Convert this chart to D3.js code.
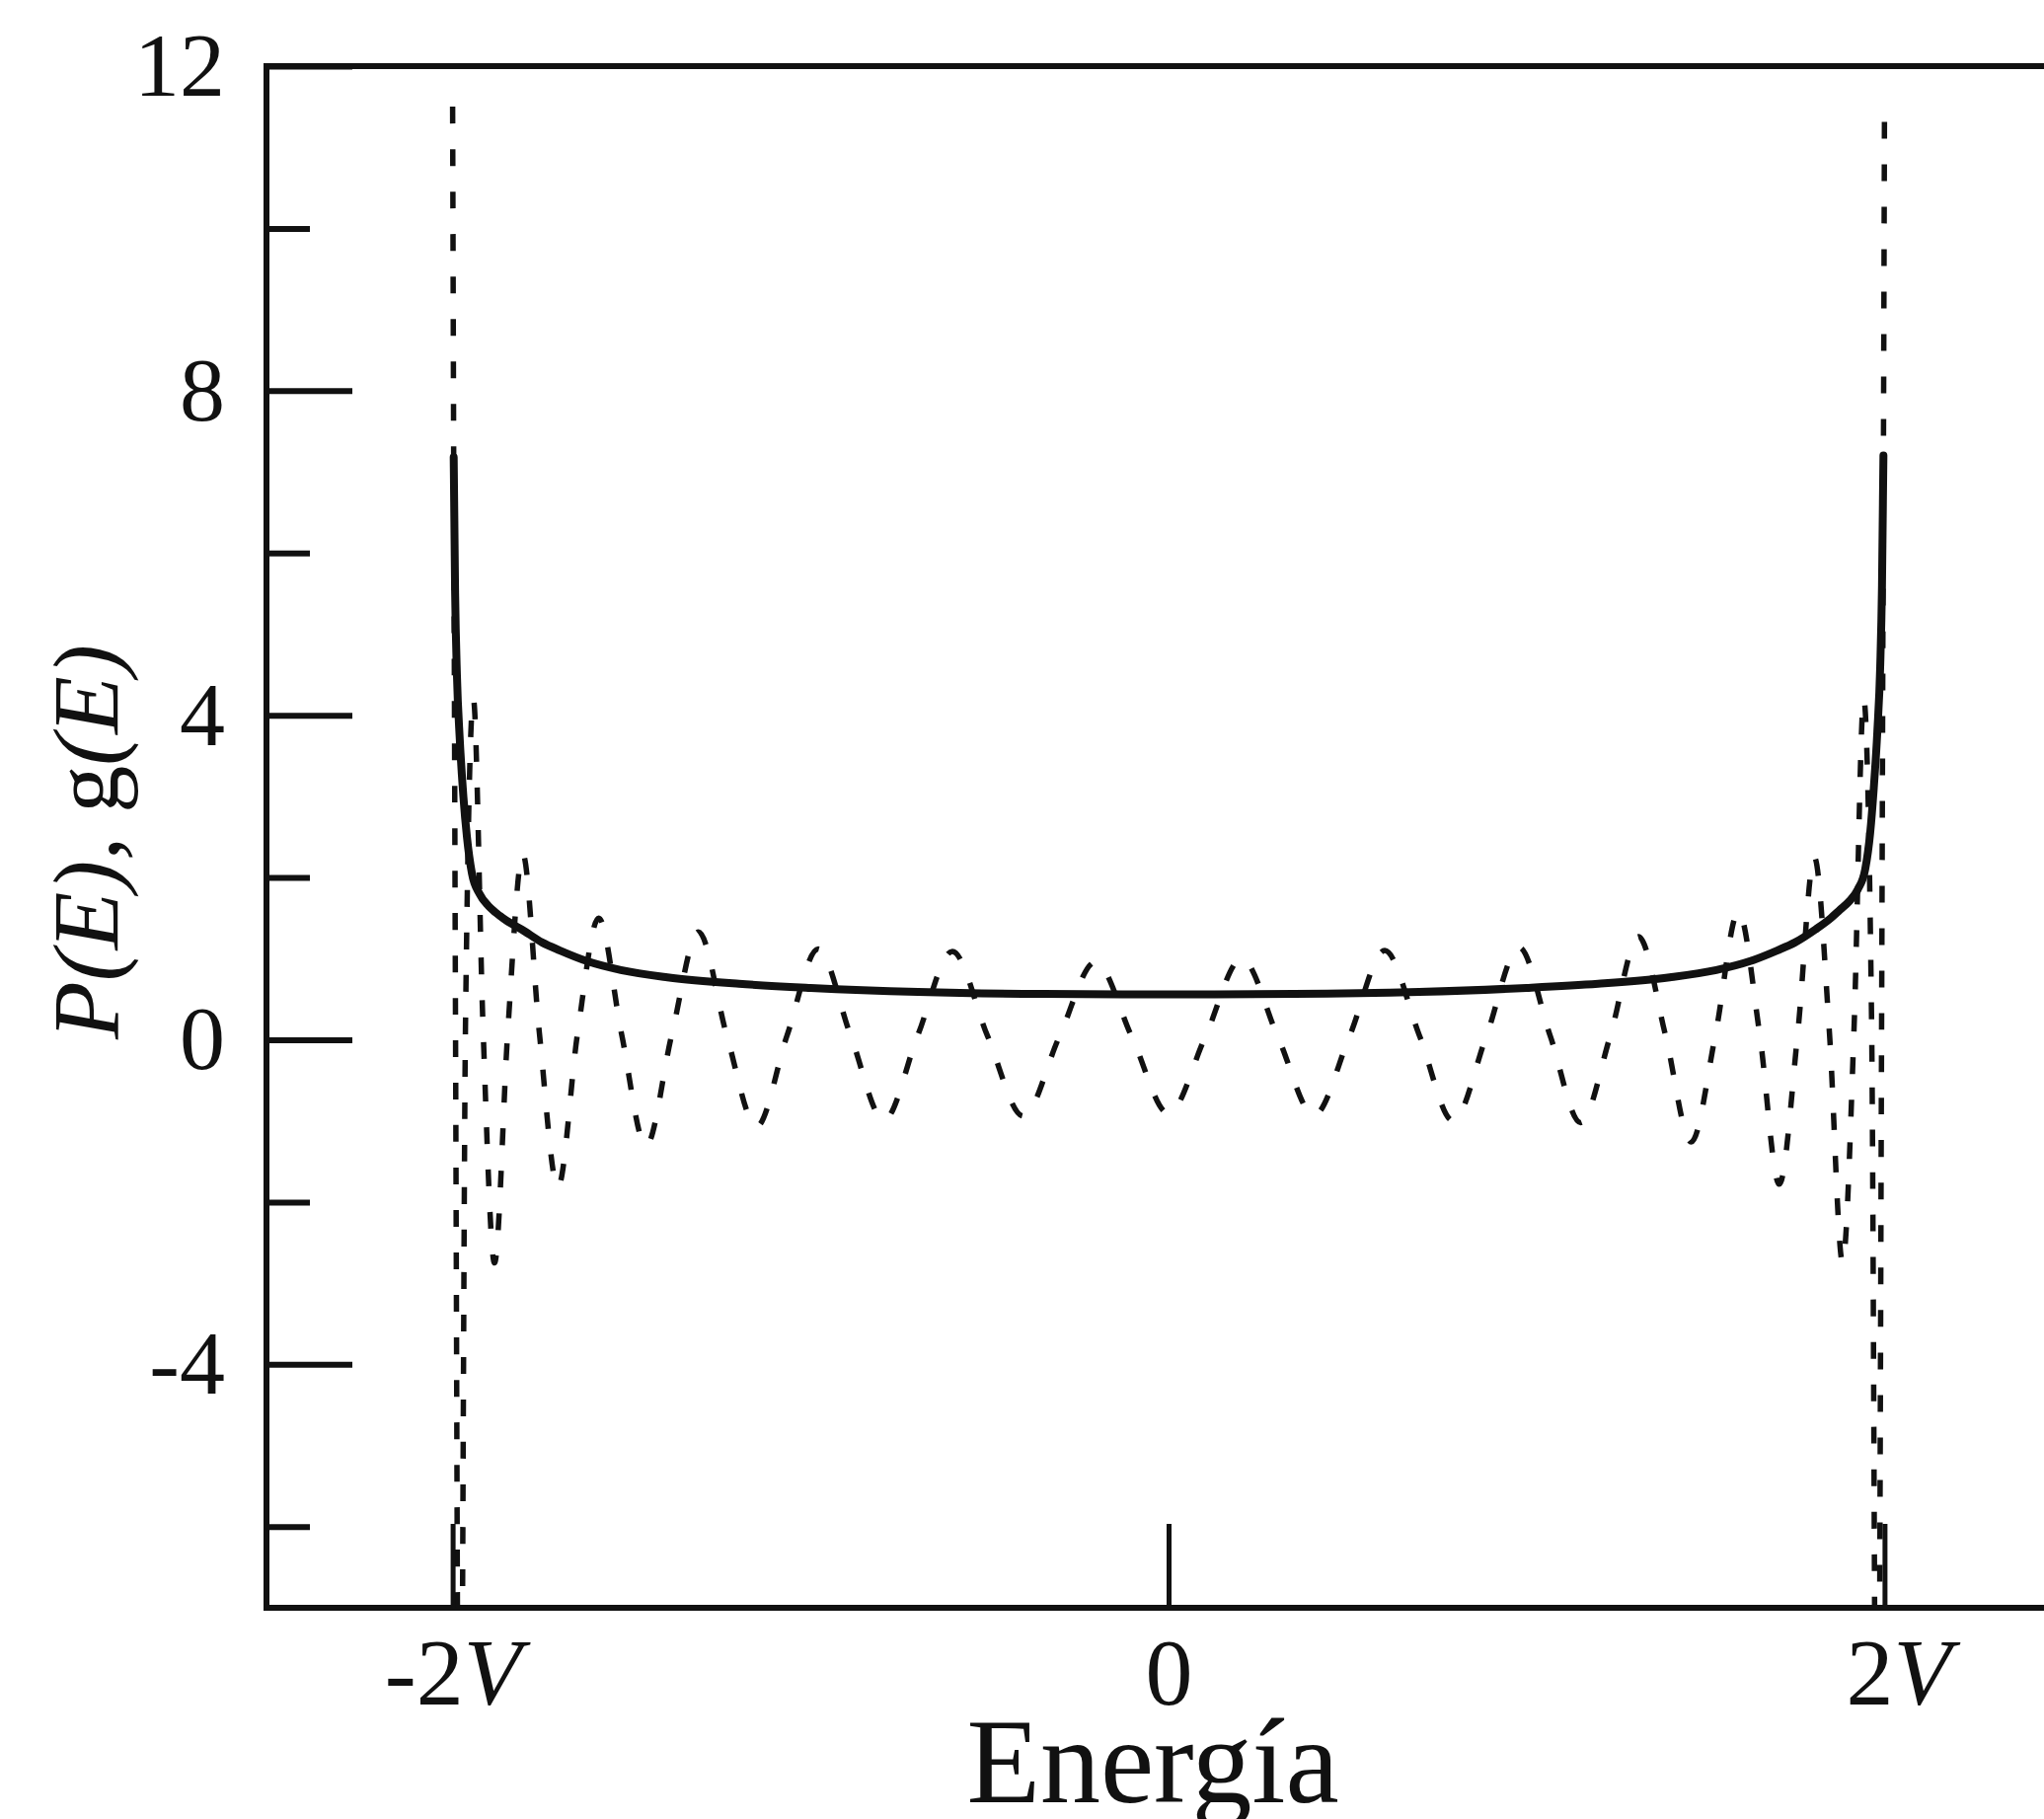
<!DOCTYPE html>
<html>
<head>
<meta charset="utf-8">
<script src="https://cdn.jsdelivr.net/npm/d3@7"></script>
<style>
  body { margin: 0; background: #fff; }
  svg { display: block; }
</style>
</head>
<body>
<svg></svg>
<script>
const width = 2071
const height = 1843

// energy in units of V
// g(E): solid curve
const gE   = [-1.997, -1.993, -1.988, -1.98, -1.97, -1.96, -1.946, -1.925, -1.9, -1.88, -1.85, -1.807, -1.75, -1.7, -1.625, -1.53, -1.4, -1.2, -1.0, -0.7, -0.35, 0,
              0.35, 0.7, 1.0, 1.2, 1.4, 1.53, 1.625, 1.7, 1.75, 1.807, 1.85, 1.875, 1.9, 1.925, 1.946, 1.96, 1.97, 1.98, 1.988, 1.993, 1.997]
const gVal = [7.18, 5.5, 4.5, 3.7, 3.0, 2.5, 2.05, 1.8, 1.65, 1.57, 1.47, 1.36, 1.2, 1.1, 0.97, 0.86, 0.77, 0.69, 0.64, 0.59, 0.565, 0.56,
              0.565, 0.59, 0.64, 0.69, 0.77, 0.86, 0.97, 1.1, 1.2, 1.36, 1.5, 1.6, 1.7, 1.85, 2.1, 2.55, 3.1, 3.8, 4.6, 5.6, 7.2]

// P(E): dashed curve
const pE   = [-2.0, -1.992, -1.98, -1.964, -1.942, -1.915, -1.883, -1.846, -1.804, -1.758, -1.706, -1.651, -1.592, -1.528,
              -1.46, -1.388, -1.313, -1.234, -1.151, -1.066, -0.979, -0.888, -0.795, -0.701, -0.604, -0.506, -0.406, -0.306,
              -0.204, -0.102, 0, 0.102, 0.204, 0.306, 0.406, 0.506, 0.604, 0.701, 0.795, 0.888, 0.979, 1.066, 1.151, 1.234,
              1.313, 1.388, 1.46, 1.528, 1.592, 1.651, 1.706, 1.758, 1.804, 1.846, 1.883, 1.915, 1.942, 1.964, 1.98, 1.992, 2.0]
const pVal = [11.5, 0.3, -12, 0.2, 4.2, 0.15, -2.75, 0.1, 2.29, 0.1, -1.82, 0.08, 1.5, 0.07,
              -1.31, 0.06, 1.33, 0.05, -1.07, 0.05, 1.12, 0.05, -0.99, 0.05, 1.09, 0.05, -0.94, 0.03,
              0.96, 0.03, -0.91, 0.03, 1.0, 0.03, -0.93, 0.05, 1.1, 0.05, -1.0, 0.05, 1.14, 0.05, -1.02, 0.05,
              1.27, 0.06, -1.26, 0.07, 1.58, 0.08, -1.78, 0.1, 2.25, 0.1, -2.75, 0.15, 4.2, 0.2, -12, 0.3, 11.5]

const yMajorTicks = [12, 8, 4, 0, -4]
const yMinorTicks = [10, 6, 2, -2, -6]
const xTicks = [-2, 0, 2]
const xTickText = ["-2", "0", "2"]
const xTickUnit = ["V", "", "V"]

const serif = "'Liberation Serif', 'Times New Roman', serif"
const ink = "#111"

const svg = d3.select('svg')
  .attr('width', width)
  .attr('height', height)
  .style('background', '#fff')

const x = d3.scaleLinear().domain([-2.52, 2.52]).range([270, 2098])
const y = d3.scaleLinear().domain([-7, 12]).range([1629, 67])

svg.append('defs').append('clipPath').attr('id', 'plot')
  .append('rect')
    .attr('x', x.range()[0]).attr('y', y.range()[1])
    .attr('width', x.range()[1] - x.range()[0])
    .attr('height', y.range()[0] - y.range()[1])

// curves
var line = d3.line()
  .x(d => x(d[0]))
  .y(d => y(d[1]))
  .curve(d3.curveMonotoneX)

svg.append('path')
  .datum(d3.zip(pE, pVal))
  .attr('clip-path', 'url(#plot)')
  .attr('d', line)
  .attr('fill', 'none')
  .attr('stroke', ink)
  .attr('stroke-width', 5.5)
  .attr('stroke-dasharray', '17 26')

svg.append('path')
  .datum(d3.zip(gE, gVal))
  .attr('d', line)
  .attr('fill', 'none')
  .attr('stroke', ink)
  .attr('stroke-width', 8)
  .attr('stroke-linecap', 'round')
  .attr('stroke-linejoin', 'round')

// frame
svg.append('rect')
  .attr('x', x.range()[0]).attr('y', y.range()[1])
  .attr('width', x.range()[1] - x.range()[0])
  .attr('height', y.range()[0] - y.range()[1])
  .attr('fill', 'none')
  .attr('stroke', ink)
  .attr('stroke-width', 6)

// y axis: long labelled ticks + short unlabelled ones, drawn inward
svg.append('g')
  .attr('transform', `translate(${x.range()[0]},0)`)
  .call(d3.axisLeft(y).tickValues(yMajorTicks).tickSizeInner(-87).tickSizeOuter(0)
    .tickPadding(42).tickFormat(d => String(d)))
  .call(g => g.select('.domain').remove())
  .call(g => g.selectAll('line').attr('stroke', ink).attr('stroke-width', 6))
  .call(g => g.selectAll('text').attr('fill', ink).style('font-family', serif).style('font-size', '92px'))

svg.append('g')
  .attr('transform', `translate(${x.range()[0]},0)`)
  .call(d3.axisLeft(y).tickValues(yMinorTicks).tickSizeInner(-44).tickSizeOuter(0).tickFormat(''))
  .call(g => g.select('.domain').remove())
  .call(g => g.selectAll('line').attr('stroke', ink).attr('stroke-width', 6))

// x axis
svg.append('g')
  .attr('transform', `translate(0,${y.range()[0]})`)
  .call(d3.axisBottom(x).tickValues(xTicks).tickSizeInner(-85).tickSizeOuter(0).tickPadding(30))
  .call(g => g.select('.domain').remove())
  .call(g => g.selectAll('line').attr('stroke', ink).attr('stroke-width', 5))
  .call(g => g.selectAll('text')
    .attr('fill', ink)
    .style('font-family', serif)
    .style('font-size', '96px')
    .attr('dx', (d, i) => i == 2 ? 14 : 0)
    .text(null)
    .each(function(d, i) {
      const t = d3.select(this)
      t.append('tspan').text(xTickText[i])
      if (xTickUnit[i]) t.append('tspan').style('font-style', 'italic').text(xTickUnit[i])
    }))

svg.append('text')
  .attr('x', 1168)
  .attr('y', 1826)
  .attr('text-anchor', 'middle')
  .attr('fill', ink)
  .style('font-family', serif)
  .style('font-size', '122px')
  .text('Energía')

// y title: P and E italic, g upright as in the print
const ytitle = svg.append('text')
  .attr('transform', 'translate(120,853) rotate(-90)')
  .attr('text-anchor', 'middle')
  .attr('fill', ink)
  .style('font-family', serif)
  .style('font-style', 'italic')
  .style('font-size', '96px')
ytitle.append('tspan').text('P(E), ')
ytitle.append('tspan').style('font-style', 'normal').text('g')
ytitle.append('tspan').text('(E)')
</script>
</body>
</html>
